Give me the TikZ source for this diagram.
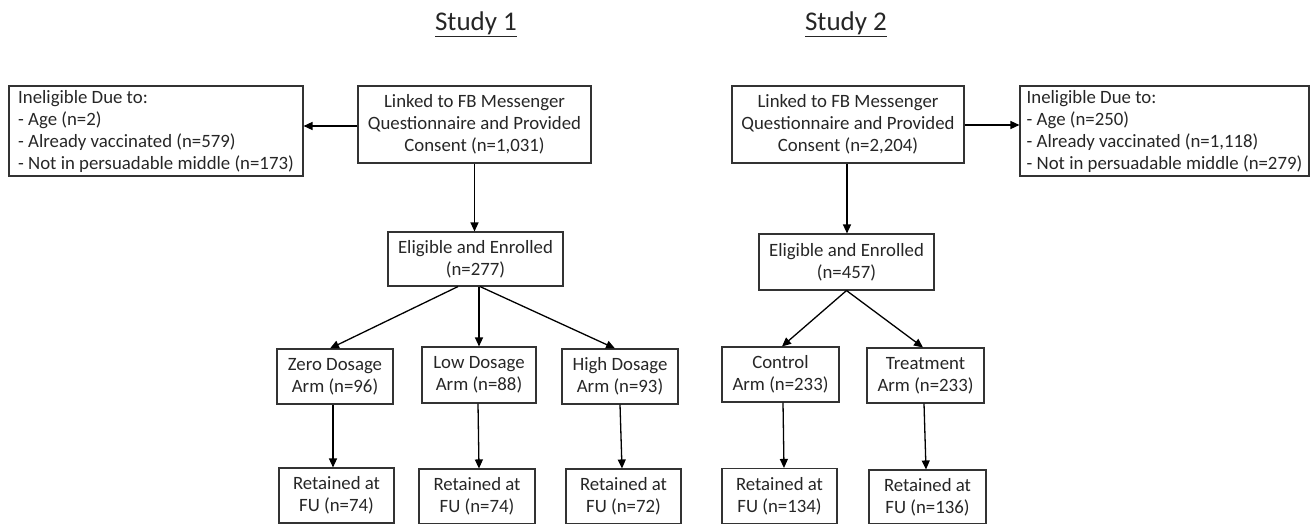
\documentclass[tikz,border=0pt]{standalone}
\usepackage{fontspec}
\setmainfont{Carlito}
\usetikzlibrary{arrows.meta}
\tikzset{
  box/.style={draw=black!80, line width=1.1pt, text=black!85, align=center, inner sep=0pt,
    font=\fontsize{18.8}{22}\selectfont},
  listbox/.style={box, align=left, minimum width=294pt, minimum height=90pt},
  title/.style={text=black!85, font=\fontsize{27}{31}\selectfont, inner sep=0pt},
  arr/.style={draw=black, line width=1.3pt, -{Triangle[length=9pt,width=8pt]}}
}
\begin{document}
\begin{tikzpicture}[x=1pt,y=-1pt]
\useasboundingbox (0,0) rectangle (1311,524);
% titles
\node[title] (t1) at (476,24) {\underline{Study 1}};
\node[title] (t2) at (846,24) {\underline{Study 2}};
% Study 1
\node[listbox] (inel1) at (156,131) {Ineligible Due to:\\- Age (n=2)\\- Already vaccinated (n=579)\\- Not in persuadable middle (n=173)};
\node[box, minimum width=233pt, minimum height=77pt] (main1) at (474.5,124.5) {Linked to FB Messenger\\Questionnaire and Provided\\Consent (n=1,031)};
\node[box, minimum width=175pt, minimum height=54pt] (elig1) at (475.5,259) {Eligible and Enrolled\\(n=277)};
\node[box, minimum width=116pt, minimum height=55pt] (zero) at (335,376.5) {Zero Dosage\\Arm (n=96)};
\node[box, minimum width=114pt, minimum height=56pt] (low) at (479,375) {Low Dosage\\Arm (n=88)};
\node[box, minimum width=116pt, minimum height=55pt] (high) at (620,376.5) {High Dosage\\Arm (n=93)};
\node[box, minimum width=115pt, minimum height=55pt] (ret0) at (336.5,495.5) {Retained at\\FU (n=74)};
\node[box, minimum width=116pt, minimum height=55pt] (ret1) at (477,496.5) {Retained at\\FU (n=74)};
\node[box, minimum width=115pt, minimum height=55pt] (ret2) at (623.5,496.5) {Retained at\\FU (n=72)};
% Study 2
\node[box, minimum width=232pt, minimum height=77pt] (main2) at (848,124.5) {Linked to FB Messenger\\Questionnaire and Provided\\Consent (n=2,204)};
\node[listbox, minimum width=289pt] (inel2) at (1164.5,131) {Ineligible Due to:\\- Age (n=250)\\- Already vaccinated (n=1,118)\\- Not in persuadable middle (n=279)};
\node[box, minimum width=175pt, minimum height=56pt] (elig2) at (846.5,262) {Eligible and Enrolled\\(n=457)};
\node[box, minimum width=117pt, minimum height=55pt] (ctrl) at (780.5,374.5) {Control\\Arm (n=233)};
\node[box, minimum width=117pt, minimum height=55pt] (treat) at (925.5,375.5) {Treatment\\Arm (n=233)};
\node[box, minimum width=115pt, minimum height=55pt] (retc) at (779.5,496) {Retained at\\FU (n=134)};
\node[box, minimum width=117pt, minimum height=54pt] (rett) at (927.5,497) {Retained at\\FU (n=136)};
% connectors study 1
\draw[arr] ([yshift=-1.5pt]main1.west) -- ([yshift=-1.5pt]main1.west -| inel1.east);
\draw[arr] (main1.south) -- (main1.south |- elig1.north);
\draw[arr] ([xshift=-17.5pt]elig1.south) -- ([xshift=-5pt]zero.north);
\draw[arr] (elig1.south -| low.north) -- (low.north);
\draw[arr] ([xshift=4.5pt]elig1.south) -- ([xshift=-5pt]high.north);
\draw[arr] ([xshift=-2pt]zero.south) -- ([xshift=-3.5pt]ret0.north);
\draw[arr] ([xshift=-1pt]low.south) -- ([xshift=2pt]ret1.north);
\draw[arr] (high.south) -- ([xshift=-1.5pt]ret2.north);
% connectors study 2
\draw[arr] ([yshift=-0.5pt]main2.east) -- ([yshift=-0.5pt]main2.east -| inel2.west);
\draw[arr] ([xshift=-1pt]main2.south) -- ([xshift=-1pt]main2.south |- elig2.north);
\draw[arr] (elig2.south) -- ([xshift=1.5pt]ctrl.north);
\draw[arr] (elig2.south) -- ([xshift=-2.5pt]treat.north);
\draw[arr] ([xshift=2.5pt]ctrl.south) -- ([xshift=4.5pt]retc.north);
\draw[arr] ([xshift=-1.5pt]treat.south) -- ([xshift=-1.5pt]rett.north);
\end{tikzpicture}
\end{document}
